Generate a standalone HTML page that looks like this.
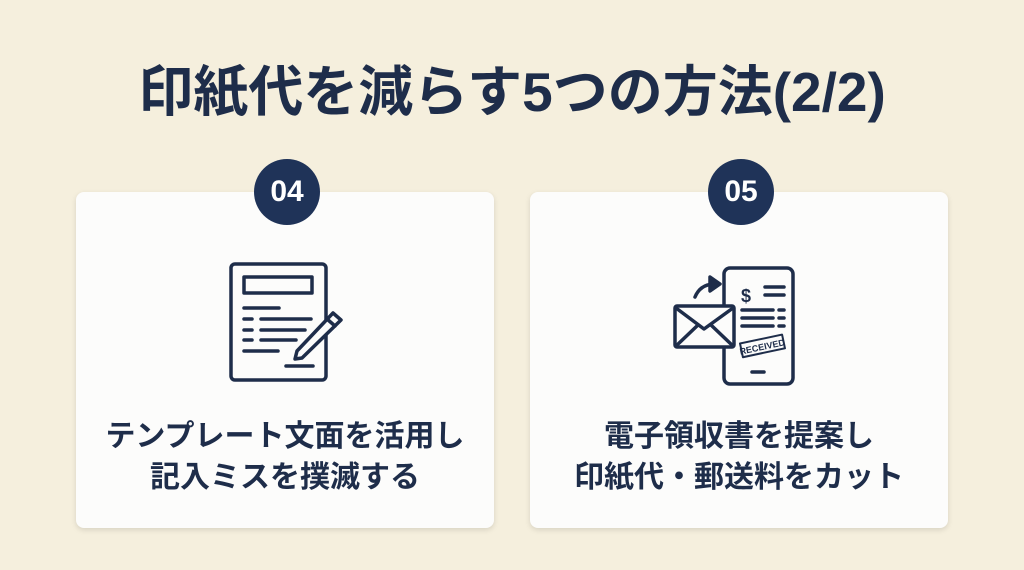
<!DOCTYPE html>
<html><head><meta charset="utf-8"><style>
body{margin:0;width:1024px;height:570px;background:#f5efdd;font-family:"Liberation Sans","Noto Sans CJK JP",sans-serif;position:relative;overflow:hidden;color:#1e2d4a}
.title{position:absolute;top:47px;left:0;width:1024px;text-align:center;font-size:55px;font-weight:bold;color:#1e2d4a;letter-spacing:0px}
.card{position:absolute;top:192px;width:418px;height:336px;background:#fcfcfb;border-radius:8px;box-shadow:0 2px 6px rgba(0,0,0,.12)}
.num{position:absolute;top:159px;width:66px;height:66px;border-radius:50%;background:#1f3358;color:#fff;font-size:30px;font-weight:bold;text-align:center;line-height:66px}
.txt{position:absolute;top:416px;width:418px;text-align:center;font-size:30px;font-weight:bold;line-height:41px}
svg{position:absolute;left:0;top:0}
</style></head><body>
<div class="title">印紙代を減らす5つの方法(2/2)</div>
<div class="card" style="left:76px"></div>
<div class="card" style="left:530px"></div>
<div class="num" style="left:254px">04</div>
<div class="num" style="left:708px">05</div>
<div class="txt" style="left:76px">テンプレート文面を活用し<br>記入ミスを撲滅する</div>
<div class="txt" style="left:530px">電子領収書を提案し<br>印紙代・郵送料をカット</div>
<svg width="1024" height="570" fill="none" stroke="#1e2d4a" stroke-width="3.5" stroke-linecap="round" stroke-linejoin="round">
<rect x="231" y="264" width="95" height="116" rx="4"/>
<rect x="244" y="277" width="68" height="16"/>
<line x1="244" y1="308" x2="279" y2="308"/>
<line x1="244" y1="319" x2="252" y2="319"/><line x1="261" y1="319" x2="311" y2="319"/>
<line x1="244" y1="330" x2="252" y2="330"/><line x1="261" y1="330" x2="305" y2="330"/>
<line x1="244" y1="340" x2="252" y2="340"/><line x1="261" y1="340" x2="296" y2="340"/>
<line x1="244" y1="351" x2="278" y2="351"/>
<line x1="286" y1="366" x2="313" y2="366"/>
<path d="M333 313 L341 320 L302 358 L295 359 L297 351 Z" fill="#fcfcfb"/>
<line x1="327" y1="319" x2="335" y2="326"/>
<rect x="724" y="268" width="69" height="116" rx="6"/>
<line x1="752" y1="372" x2="764" y2="372"/>
<text x="741" y="302" font-size="18" font-weight="bold" fill="#1e2d4a" stroke="none" font-family="Liberation Sans">$</text>
<line x1="765" y1="287" x2="784" y2="287"/><line x1="765" y1="295" x2="784" y2="295"/>
<line x1="742" y1="310" x2="773" y2="310"/><line x1="779" y1="310" x2="784" y2="310"/>
<line x1="742" y1="318" x2="773" y2="318"/><line x1="779" y1="318" x2="784" y2="318"/>
<line x1="742" y1="326" x2="773" y2="326"/><line x1="779" y1="326" x2="784" y2="326"/>
<g transform="rotate(-12 762 346)"><rect x="741" y="339" width="43" height="14" stroke-width="2"/>
<text x="762" y="350" font-size="9" font-weight="bold" text-anchor="middle" fill="#1e2d4a" stroke="none" font-family="Liberation Sans">RECEIVED</text></g>
<rect x="675" y="306" width="59" height="41" rx="2" fill="#fcfcfb"/>
<path d="M676 308 L704 329 L733 308 M676 346 L698 325 M733 346 L711 325"/>
<path d="M695 297 Q700 285 713 284" />
<path d="M710 277 L720 284 L710 291 Z" fill="#1e2d4a"/>
</svg>
</body></html>
